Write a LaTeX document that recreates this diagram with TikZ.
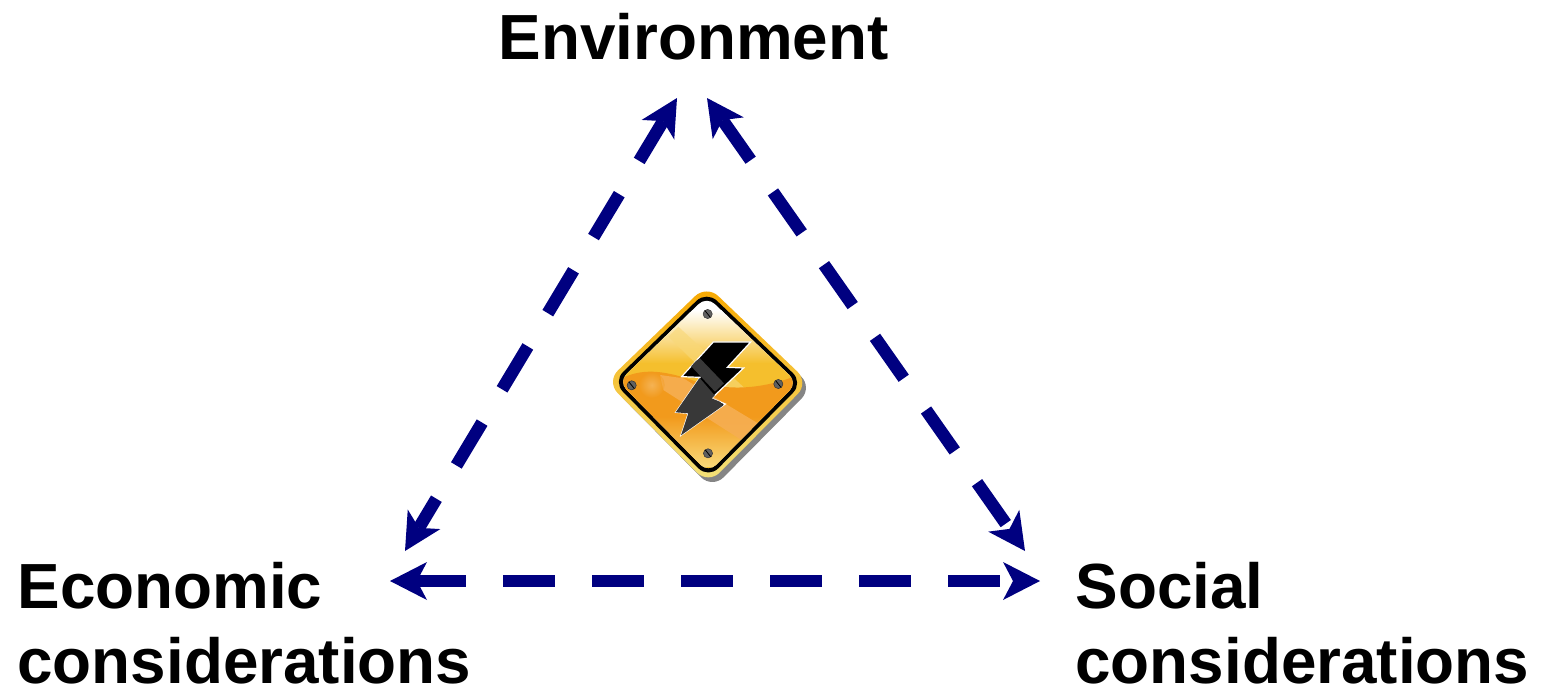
\documentclass[tikz,border=0pt]{standalone}
\usepackage{fontspec}
\setmainfont{Liberation Sans}
\usetikzlibrary{arrows.meta,shadings}
\definecolor{navyc}{HTML}{000080}
\definecolor{signorange}{HTML}{F29A1C}
\definecolor{signyellow}{HTML}{F5BF2D}
\definecolor{signrim}{HTML}{F7A800}
\definecolor{signpale}{HTML}{F3E27C}
\definecolor{signband}{HTML}{F6AE52}
\definecolor{signlight}{HTML}{F8D878}
\tikzset{
  label text/.style={font=\bfseries\fontsize{63.8}{75.5}\selectfont,inner sep=0pt,outer sep=0pt,align=left,anchor=north west,text=black},
  conn/.style={draw=navyc,line width=12.5pt,line cap=butt,
    {Stealth[length=37pt,width=38pt,inset=10pt,line width=0pt]}-{Stealth[length=37pt,width=38pt,inset=10pt,line width=0pt]}},
  screw/.style={fill=black!62,draw=black!80,line width=.5pt}
}
\begin{document}
\begin{tikzpicture}[x=1pt,y=-1pt]
\useasboundingbox (0,0) rectangle (1544,688);
\node[label text] (env) at (498.5,13) {Environment};
\node[label text] (eco) at (17.5,562) {Economic\\considerations};
\node[label text] (soc) at (1075.5,562) {Social\\considerations};
\coordinate (envL) at (677,98);
\coordinate (envR) at (707,98);
\coordinate (ecoT) at (405,551);
\coordinate (ecoB) at (390,581);
\coordinate (socT) at (1025,551);
\coordinate (socB) at (1040,581);
\draw[conn,dash pattern=on 52pt off 37pt,dash phase=3pt] (ecoB) -- (socB);
\draw[conn,dash pattern=on 50pt off 38.8pt,dash phase=16pt] (ecoT) -- (envL);
\draw[conn,dash pattern=on 50pt off 38.8pt,dash phase=1pt] (envR) -- (socT);
% sign
\begin{scope}[shift={(600,280)},x=0.3333pt,y=-0.3333pt]
 \coordinate (sign) at (322,310);
 \fill[black!60,rounded corners=16pt,opacity=.8] (332,34)--(638,322)--(337,626)--(36,322)--cycle;
 \shade[top color=signrim,middle color=signrim,bottom color=signpale,rounded corners=16pt] (320,15)--(627,308)--(325,612)--(19,305)--cycle;
 \fill[black,rounded corners=14pt] (320,33)--(609,308)--(325,595)--(39,305)--cycle;
 \begin{scope}
  \clip[rounded corners=11pt] (320,49)--(592,308)--(325,578)--(56,305)--cycle;
  \fill[white] (0,0) rectangle (650,650);
  \shade[top color=white,bottom color=signyellow] (0,90) rectangle (650,250);
  \fill[signyellow] (0,250) rectangle (650,650);
  \fill[signlight,opacity=.65] (205,170)--(235,140)--(440,330)--(400,360)--cycle;
  \begin{scope}
   \clip (40,310) .. controls (110,262) and (180,270) .. (260,295) .. controls (360,330) and (470,340) .. (620,275) -- (620,620)--(40,620)--cycle;
   \shade[top color=signorange,bottom color=signlight,middle color=signorange] (0,260) rectangle (650,560);
   \fill[signband,opacity=.9] (180,285)--(250,295)--(490,440)--(440,490)--(190,330)--cycle;
  \end{scope}
  \shade[inner color=white!55!signorange,outer color=signorange,opacity=.45] (155,315) circle (13pt);
  \fill[black!45!signorange,opacity=.55] (592,312)--(335,572)--(325,590)--(600,330)--cycle;
 \end{scope}
 \foreach \n/\a/\b in {t/323/102,l/95/316,r/535/312,b/324/520}{
   \fill[screw] (\a,\b) circle (4.6pt);
   \draw[black,line width=.8pt] (\a-8,\b-10)--(\a+8,\b+10);
 }
 \path[fill=black,draw=white,line width=1.2pt,line join=miter]
   (340,186)--(452,186)--(382,262)--(431,264)--(335,355)--(376,372)--(243,466)--(265,400)--(227,397)--(300,292)--(245,290)--cycle;
 \begin{scope}
  \clip (340,186)--(452,186)--(382,262)--(431,264)--(335,355)--(376,372)--(243,466)--(265,400)--(227,397)--(300,292)--(245,290)--cycle;
  \fill[black!78] (270,255)--(300,235)--(372,310)--(345,335)--cycle;
  \fill[black!78] (200,300)--(300,295)--(390,400)--(240,480)--cycle;
 \end{scope}
\end{scope}
\end{tikzpicture}
\end{document}
